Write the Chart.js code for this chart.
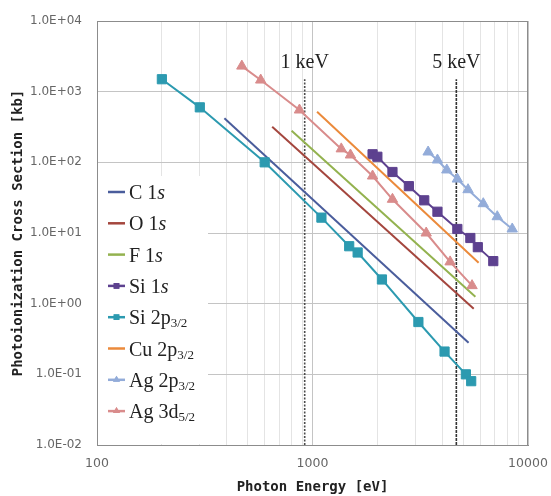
<!DOCTYPE html>
<html>
<head>
<meta charset="utf-8">
<script src="https://cdn.jsdelivr.net/npm/chart.js@4/dist/chart.umd.min.js"></script>
<style>
html,body{margin:0;padding:0;background:#fff}
#wrap{width:551px;height:496px}
</style>
</head>
<body>
<div id="wrap"><canvas id="c" width="551" height="496"></canvas></div>
<script>
// tick labels
const xTicks = [100, 1000, 10000];
const yTicks = [0.01, 0.1, 1, 10, 100, 1000, 10000];
const yTickLabels = ['1.0E-02','1.0E-01','1.0E+00','1.0E+01','1.0E+02','1.0E+03','1.0E+04'];

// series (photon energy [eV] / cross section [kb])
const labels = ['C 1s','O 1s','F 1s','Si 1s','Si 2p3/2','Cu 2p3/2','Ag 2p3/2','Ag 3d5/2'];
const colors = ['#4a5d9c','#a4463e','#93b24f','#5d418f','#2c9ab0','#eb8a3b','#93acd9','#d98c8c'];

const c1sE = [390, 5300];
const c1sV = [420, 0.28];
const o1sE = [650, 5600];
const o1sV = [320, 0.85];
const f1sE = [800, 5700];
const f1sV = [280, 1.25];
const si1sE = [1900, 2000, 2350, 2800, 3300, 3800, 4700, 5400, 5850, 6900];
const si1sV = [130, 120, 73, 46, 29, 20, 11.4, 8.5, 6.3, 4.0];
const si2pE = [200, 300, 600, 1100, 1480, 1620, 2100, 3100, 4100, 5150, 5450];
const si2pV = [1500, 600, 100, 16.5, 6.5, 5.3, 2.2, 0.55, 0.21, 0.1, 0.08];
const cu2pE = [1050, 5900];
const cu2pV = [520, 3.8];
const ag2pE = [3440, 3800, 4200, 4700, 5270, 6200, 7200, 8450];
const ag2pV = [140, 108, 78, 58, 41, 26, 17, 11.4];
const ag3dE = [470, 575, 870, 1360, 1500, 1900, 2350, 3370, 4350, 5500];
const ag3dV = [2300, 1460, 550, 155, 127, 64, 30, 10, 3.9, 1.8];

// marker lines
const keVLabels = ['1 keV', '5 keV'];
const keVPos = [920, 4650];
const keVTop = 1500;

function pts(e, v){
	return e.map((x, i) => ({x: x, y: v[i]}));
}
const energies = [c1sE, o1sE, f1sE, si1sE, si2pE, cu2pE, ag2pE, ag3dE];
const values = [c1sV, o1sV, f1sV, si1sV, si2pV, cu2pV, ag2pV, ag3dV];
const markers = [false, false, false, 'rect', 'rect', false, 'triangle', 'triangle'];

let datasets = [];
for (let i = labels.length - 1; i >= 0; i--){
	datasets.push({
		label: labels[i],
		data: pts(energies[i], values[i]),
		borderColor: colors[i],
		backgroundColor: colors[i],
		borderWidth: 2,
		pointStyle: markers[i] || 'circle',
		pointRadius: markers[i] == 'rect' ? 6.5 : (markers[i] ? 6 : 0),
		pointBorderWidth: 1,
		tension: 0
	});
}
for (let i = 0; i < keVPos.length; i++){
	datasets.push({
		label: keVLabels[i],
		data: [{x: keVPos[i], y: 0.01}, {x: keVPos[i], y: keVTop}],
		borderColor: i == 0 ? '#4a4a4a' : '#333',
		borderWidth: 1.6,
		borderDash: i == 0 ? [2, 1.5] : [3, 1],
		pointRadius: 0
	});
}

const frame = {
	id: 'frame',
	afterDatasetsDraw(chart){
		const ctx = chart.ctx, a = chart.chartArea;
		const xs = chart.scales.x, ys = chart.scales.y;
		ctx.save();
		ctx.strokeStyle = '#8c8c8c';
		ctx.lineWidth = 1;
		ctx.strokeRect(a.left + 0.5, a.top + 0.5, a.right - a.left - 1, a.bottom - a.top);
		// keV labels
		ctx.fillStyle = '#222';
		ctx.font = '20px "Liberation Serif"';
		ctx.textAlign = 'center';
		ctx.textBaseline = 'bottom';
		for (let i = 0; i < keVPos.length; i++){
			ctx.fillText(keVLabels[i], xs.getPixelForValue(keVPos[i]), ys.getPixelForValue(keVTop) - 6);
		}
		// legend box
		const lx = a.left + 1, ly = 176;
		ctx.fillStyle = '#fff';
		ctx.fillRect(lx, ly, 110, a.bottom - ly - 1);
		ctx.textAlign = 'left';
		ctx.textBaseline = 'alphabetic';
		for (let i = 0; i < labels.length; i++){
			const y = 192 + i * 31.3;
			ctx.strokeStyle = colors[i];
			ctx.lineWidth = 2.5;
			ctx.beginPath();
			ctx.moveTo(a.left + 11, y);
			ctx.lineTo(a.left + 28, y);
			ctx.stroke();
			if (markers[i]){
				ctx.fillStyle = colors[i];
				Chart.helpers.drawPoint(ctx, {pointStyle: markers[i], radius: 4, borderWidth: 0}, a.left + 19.5, y);
				ctx.fill();
			}
			ctx.fillStyle = '#222';
			let x = a.left + 32;
			let txt = labels[i], sub = '', ital = '';
			const m = txt.match(/^(.*?)(\d\/\d)$/);
			if (m){ txt = m[1]; sub = m[2]; }
			if (txt.endsWith('1s')){ txt = txt.slice(0, -1); ital = 's'; }
			ctx.font = '20px "Liberation Serif"';
			ctx.fillText(txt, x, y + 7);
			x += ctx.measureText(txt).width;
			if (ital){
				ctx.font = 'italic 20px "Liberation Serif"';
				ctx.fillText(ital, x, y + 7);
			}
			if (sub){
				ctx.font = '13px "Liberation Serif"';
				ctx.fillText(sub, x, y + 10);
			}
		}
		ctx.restore();
	}
};

const xGrid = [];
[100, 1000].forEach(d => { for (let k = 1; k < 10; k++) xGrid.push(d * k); });
xGrid.push(10000);

new Chart(document.getElementById('c').getContext('2d'), {
	type: 'line',
	data: {datasets: datasets},
	options: {
		responsive: false,
		animation: false,
		devicePixelRatio: 1,
		layout: {padding: {top: 21, right: 23, left: 0, bottom: 0}},
		plugins: {legend: {display: false}, tooltip: {enabled: false}},
		scales: {
			x: {
				type: 'logarithmic',
				min: 100, max: 10000,
				afterFit: s => { s.height = 51; s.paddingLeft = 0; s.paddingRight = 0; },
				afterBuildTicks: s => { s.ticks = xGrid.map(v => ({value: v})); },
				grid: {
					color: c => xTicks.includes(c.tick.value) ? '#c4c4c4' : '#e4e4e4',
					drawTicks: false
				},
				border: {color: '#8c8c8c'},
				ticks: {
					autoSkip: false, maxRotation: 0, padding: 11,
					color: '#666', font: {family: 'DejaVu Sans', size: 12.5},
					callback: v => xTicks.includes(v) ? String(v) : ''
				},
				title: {
					display: true, text: 'Photon Energy [eV]', color: '#222',
					font: {family: 'DejaVu Sans Mono', size: 14, weight: 'bold'},
					padding: {top: 0, bottom: 0}
				}
			},
			y: {
				type: 'logarithmic',
				min: 0.01, max: 10000,
				afterFit: s => { s.width = 97; s.paddingTop = 0; s.paddingBottom = 0; },
				afterBuildTicks: s => { s.ticks = yTicks.map(v => ({value: v})); },
				grid: {color: '#c4c4c4', drawTicks: false},
				border: {color: '#8c8c8c'},
				ticks: {
					autoSkip: false, padding: 15,
					color: '#666', font: {family: 'DejaVu Sans', size: 12},
					callback: v => yTickLabels[yTicks.indexOf(v)]
				},
				title: {
					display: true, text: 'Photoionization Cross Section [kb]', color: '#222',
					font: {family: 'DejaVu Sans Mono', size: 14, weight: 'bold'},
					padding: {top: 10, bottom: 0}
				}
			}
		}
	},
	plugins: [frame]
});
</script>
</body>
</html>
